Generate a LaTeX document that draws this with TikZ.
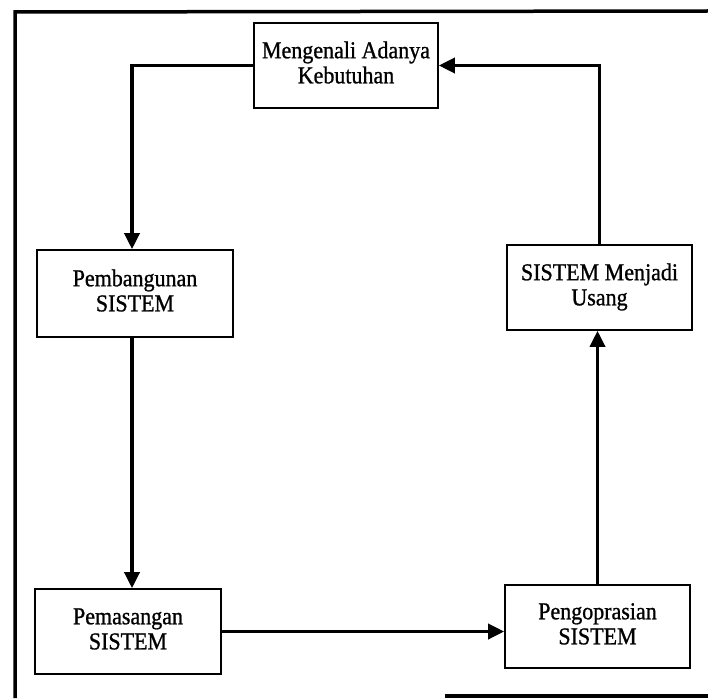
\documentclass[tikz,border=0pt]{standalone}
\usepackage{fontspec}
\setmainfont{Liberation Serif}
\newfontface\inkface{Liberation Serif}[FakeBold=1]
\usetikzlibrary{arrows.meta}

% two centred lines, slightly stretched upwards
\newcommand\stagetext[2]{\scalebox{1}[1.1]{\begin{tabular}{@{}c@{}}#1\\[-1.2pt]#2\end{tabular}}}

\tikzset{
  stage/.style={draw=black, line width=1.6pt, rectangle, align=center,
    inner sep=0pt, font=\inkface\fontsize{22}{24}\selectfont},
  flow/.style={line width=3.5pt, -{Triangle[length=16pt,width=15pt]}},
  frameline/.style={line width=3.5pt}
}

\begin{document}
\begin{tikzpicture}[x=1pt, y=-1pt]
  \useasboundingbox (0,0) rectangle (708,698);

  % outer frame (open on the right)
  \draw[frameline] (708,11) -- (15,12) -- (15,698);
  \draw[frameline] (445,696) -- (708,696);

  % stages of the system life cycle
  \node[stage, minimum width=184pt, minimum height=85pt] (need) at (346,65.5)
    {\stagetext{Mengenali Adanya}{Kebutuhan}};
  \node[stage, minimum width=196pt, minimum height=87pt] (build) at (135,293.5)
    {\stagetext{Pembangunan}{SISTEM}};
  \node[stage, minimum width=185pt, minimum height=85pt] (obsolete) at (599.5,287.5)
    {\stagetext{SISTEM Menjadi}{Usang}};
  \node[stage, minimum width=186pt, minimum height=85pt] (install) at (128,631.5)
    {\stagetext{Pemasangan}{SISTEM}};
  \node[stage, minimum width=185pt, minimum height=83pt] (operate) at (597.5,626.5)
    {\stagetext{Pengoprasian}{SISTEM}};

  % cycle connectors
  \draw[flow] (need.west) -| ([xshift=-3pt]build.north);
  \draw[flow] ([xshift=-3pt]build.south) -- ([xshift=-3pt]build.south |- install.north);
  \draw[flow] (install.east) -- (install.east -| operate.west);
  \draw[flow] (operate.north) -- (operate.north |- obsolete.south);
  \draw[flow] (obsolete.north) |- (need.east);
\end{tikzpicture}
\end{document}
